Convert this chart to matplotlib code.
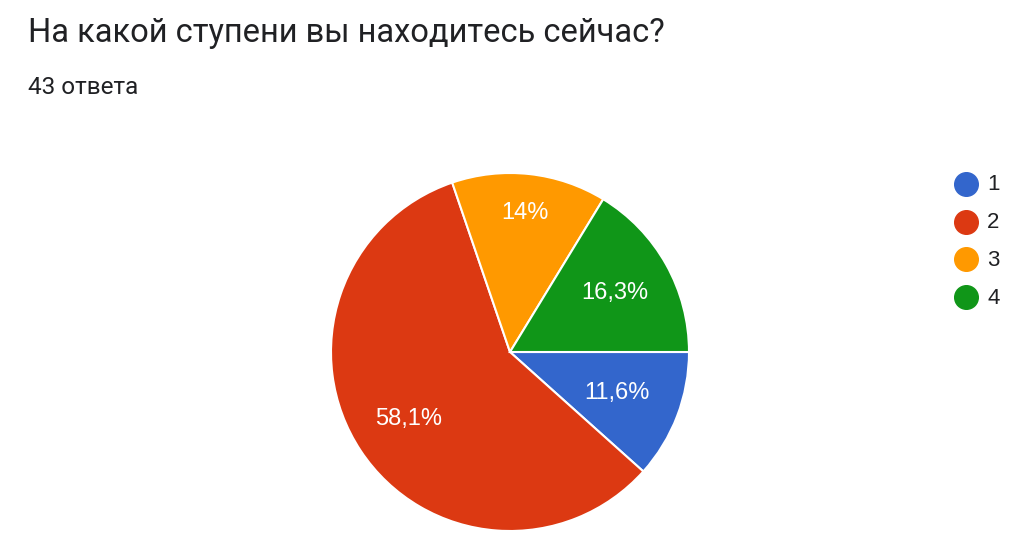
import matplotlib
matplotlib.use("Agg")
import numpy as np
import matplotlib.pyplot as plt

plt.rcParams['font.family'] = ['Roboto', 'DejaVu Sans']

# Data
title = "На какой ступени вы находитесь сейчас?"
subtitle = "43 ответа"
categories = ["1", "2", "3", "4"]
counts = [5, 25, 6, 7]
colors = ["#3366cc", "#dc3912", "#ff9900", "#109618"]
label_dist = [0.64, 0.68, 0.78, 0.67]

W, H = 1034, 560
fig = plt.figure(figsize=(W / 100, H / 100), dpi=100)
fig.patch.set_facecolor("white")

fig.text(28 / W, 1 - 33 / H, title, fontsize=23.5, color="#202124", va="center")
fig.text(28 / W, 1 - 88 / H, subtitle, fontsize=17.5, color="#202124", va="center")

# pie centre (510, 352) px, radius 179 px
cx, cy, r = 510, 352, 179
ax = fig.add_axes([(cx - r) / W, (H - cy - r) / H, 2 * r / W, 2 * r / H])
wedges, _ = ax.pie(counts, colors=colors, startangle=0, counterclock=False,
                   wedgeprops=dict(edgecolor="white", linewidth=1.5))
ax.set_xlim(-1, 1)
ax.set_ylim(-1, 1)
ax.set_aspect("equal")
ax.axis("off")

total = sum(counts)
for w, n, d in zip(wedges, counts, label_dist):
    pct = 100 * n / total
    txt = f"{pct:.1f}".replace(".", ",")
    if txt.endswith(",0"):
        txt = txt[:-2]
    mid = np.deg2rad((w.theta1 + w.theta2) / 2)
    ax.text(d * np.cos(mid), d * np.sin(mid), txt + "%", ha="center", va="center",
            color="white", fontsize=17, family=["Liberation Sans", "DejaVu Sans"])

# legend drawn in pixel space on the right
lax = fig.add_axes([0, 0, 1, 1])
lax.set_xlim(0, W)
lax.set_ylim(H, 0)
lax.axis("off")
leg_y0, leg_step = 184, 37.7
for i, (c, lab) in enumerate(zip(colors, categories)):
    y = leg_y0 + i * leg_step
    lax.plot([966], [y], marker="o", markersize=17, color=c, linestyle="none")
    lax.text(987, y + 1, lab, va="center", ha="left", fontsize=16,
             color="#202124", family=["Liberation Sans", "DejaVu Sans"])

fig.savefig("out.png", dpi=100)
